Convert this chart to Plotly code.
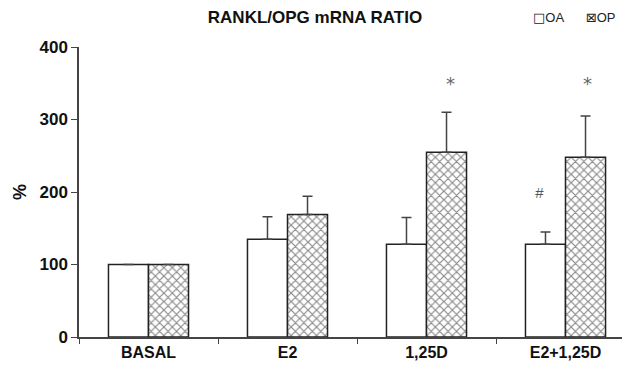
import plotly.graph_objects as go

categories = ["BASAL", "E2", "1,25D", "E2+1,25D"]
oa_values = [100, 135, 128, 128]
oa_err = [0, 31, 37, 17]
op_values = [100, 169, 255, 248]
op_err = [0, 25, 55, 57]
title_text = "RANKL/OPG mRNA RATIO"
y_ticks = [0, 100, 200, 300, 400]
legend_labels = ["OA", "OP"]

FONT = "Liberation Sans, Arial, sans-serif"

fig = go.Figure()
fig.add_trace(go.Bar(
    name=legend_labels[0], x=categories, y=oa_values, showlegend=False,
    marker=dict(color="white", line=dict(color="#222", width=1.5)),
    error_y=dict(type="data", array=oa_err, arrayminus=[0]*4, symmetric=False,
                 color="#444", thickness=1.5, width=5, visible=True),
))
fig.add_trace(go.Bar(
    name=legend_labels[1], x=categories, y=op_values, showlegend=False,
    marker=dict(color="white", line=dict(color="#222", width=1.5),
                pattern=dict(shape="x", fgcolor="#111", bgcolor="white", size=6, solidity=0.35)),
    error_y=dict(type="data", array=op_err, arrayminus=[0]*4, symmetric=False,
                 color="#444", thickness=1.5, width=5, visible=True),
))

# significance markers
for cx in [2.17, 3.16]:
    fig.add_annotation(x=cx, y=350, text="*", showarrow=False, xref="x", yref="y",
                       font=dict(family="DejaVu Sans", size=18, color="#666"))
fig.add_annotation(x=2.81, y=199, text="<i>#</i>", showarrow=False, xref="x", yref="y",
                   font=dict(family=FONT, size=15, color="#555"))

# legend (text-based, compact like the original)
fig.add_annotation(x=(617 - 79) / 551, y=1 + (47 - 18) / 290, xref="paper", yref="paper",
                   xanchor="right", yanchor="middle", showarrow=False,
                   text="<span style='font-family:DejaVu Sans'>\u25a1</span>" + legend_labels[0]
                        + "&nbsp;&nbsp;&nbsp;&nbsp;&nbsp;&nbsp;<span style='font-family:DejaVu Sans'>\u22a0</span>"
                        + legend_labels[1],
                   font=dict(family=FONT, size=13, color="#222"))

fig.update_layout(
    width=622, height=365,
    margin=dict(l=71, r=0, t=39, b=36, autoexpand=False),
    paper_bgcolor="white", plot_bgcolor="white",
    barmode="group", bargap=0.424, bargroupgap=0,
    title=dict(text="<b>" + title_text + "</b>", x=(315 - 79) / 551, xref="paper", xanchor="center",
               y=1 - 9.5 / 365, yanchor="middle", font=dict(family=FONT, size=17, color="#111")),
    showlegend=False,
    font=dict(family=FONT, color="#111"),
)
fig.update_xaxes(
    type="category", range=[-0.5, 3.464], showline=True, linecolor="#444", linewidth=1.5,
    ticks="outside", tickson="boundaries", ticklen=5, tickcolor="#444", tickwidth=1.2,
    tickfont=dict(family=FONT, size=16, color="#111"), showgrid=False, zeroline=False,
    tickprefix="<b>", ticksuffix="</b>",
)
fig.update_yaxes(
    range=[0, 400], tickvals=y_ticks, ticktext=["<b>%d</b>" % v for v in y_ticks],
    showline=True, linecolor="#444", linewidth=1.5,
    ticks="outside", ticklen=6, tickcolor="#444", tickwidth=1.2,
    tickfont=dict(family=FONT, size=17, color="#111"), showgrid=False, zeroline=False,
    title=dict(text="<b>%</b>", font=dict(family=FONT, size=18, color="#111"), standoff=8),
)

fig.write_html("out.html")
